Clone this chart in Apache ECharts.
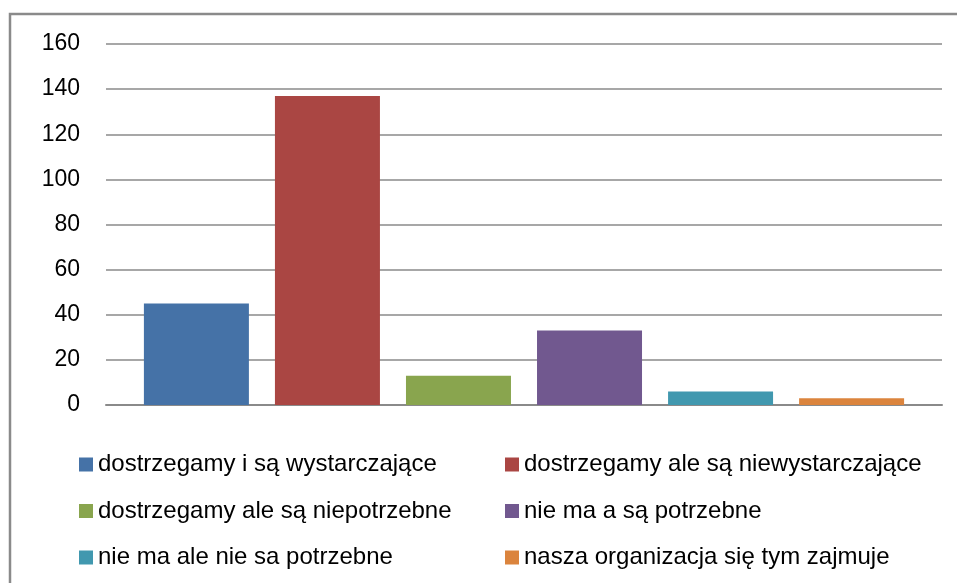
<!DOCTYPE html>
<html>
<head>
<meta charset="utf-8">
<script src="https://cdn.jsdelivr.net/npm/echarts@6/dist/echarts.min.js"></script>
<style>
html,body{margin:0;padding:0;background:#fff;}
#chart{width:957px;height:583px;}
</style>
</head>
<body>
<div id="chart"></div>
<script>
const seriesNames = [
  'dostrzegamy i są wystarczające',
  'dostrzegamy ale są niewystarczające',
  'dostrzegamy ale są niepotrzebne',
  'nie ma a są potrzebne',
  'nie ma ale nie sa potrzebne',
  'nasza organizacja się tym zajmuje'
];
const seriesValues = [45, 137, 13, 33, 6, 3];
const seriesColors = ['#4572A7', '#AA4643', '#89A54E', '#71588F', '#4198AF', '#DB843D'];
const categories = [''];

const FONT = 'Liberation Sans, Arial, sans-serif';
const chart = echarts.init(document.getElementById('chart'));

const series = seriesNames.map((n, i) => ({
  name: n,
  type: 'bar',
  data: [seriesValues[i]],
  barWidth: 105,
  barGap: '24.8%',
  itemStyle: { color: seriesColors[i] },
  animation: false
}));

const legendCommon = {
  orient: 'vertical',
  icon: 'rect',
  itemWidth: 14,
  itemHeight: 14,
  itemGap: 21.5,
  top: 447,
  selectedMode: false,
  textStyle: { fontFamily: FONT, fontSize: 24, color: '#000', lineHeight: 25, padding: [0, 0, 0, 0] }
};

chart.setOption({
  animation: false,
  grid: { left: 106, right: 15, top: 44, bottom: 178 },
  xAxis: {
    type: 'category',
    data: categories,
    axisLine: { lineStyle: { color: '#8a8a8a', width: 2 } },
    axisTick: { show: false },
    axisLabel: { show: false }
  },
  yAxis: {
    type: 'value',
    min: 0, max: 160, interval: 20,
    axisLine: { show: false },
    axisTick: { show: false },
    axisLabel: { margin: 26, color: '#000', fontFamily: FONT, fontSize: 23 },
    splitLine: { lineStyle: { color: '#8a8a8a', width: 1.5 } }
  },
  legend: [
    Object.assign({}, legendCommon, { left: 74, data: [seriesNames[0], seriesNames[2], seriesNames[4]] }),
    Object.assign({}, legendCommon, { left: 500, data: [seriesNames[1], seriesNames[3], seriesNames[5]] })
  ],
  graphic: [{
    type: 'rect',
    shape: { x: 10, y: 14, width: 970, height: 600 },
    style: { fill: 'none', stroke: '#8a8a8a', lineWidth: 2.5 },
    silent: true
  }],
  series: series
});
</script>
</body>
</html>
